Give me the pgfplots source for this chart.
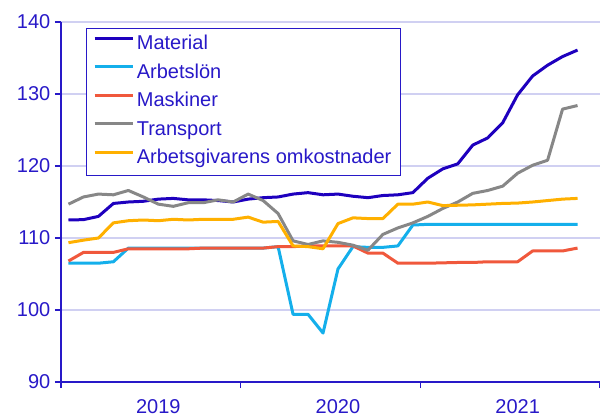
\documentclass[border=0pt]{standalone}
\usepackage{pgfplots}
\pgfplotsset{compat=1.18}
\usepackage{fontspec}
\setmainfont{Liberation Sans}
\definecolor{txt}{RGB}{40,25,200}
\definecolor{cmat}{RGB}{30,0,190}
\definecolor{clon}{RGB}{20,175,235}
\definecolor{cmask}{RGB}{240,88,60}
\definecolor{ctrans}{RGB}{135,135,135}
\definecolor{cagiv}{RGB}{255,176,0}
\definecolor{gridc}{RGB}{208,208,242}
\pgfplotstableread{
i mat lon mask trans agiv
0 112.5 106.5 106.8 114.7 109.35
1 112.55 106.5 108.0 115.7 109.7
2 113.0 106.5 108.0 116.1 110.0
3 114.8 106.7 108.0 116.0 112.1
4 115.0 108.6 108.5 116.6 112.4
5 115.1 108.6 108.5 115.7 112.5
6 115.4 108.6 108.5 114.7 112.4
7 115.5 108.6 108.5 114.4 112.6
8 115.3 108.6 108.5 114.9 112.5
9 115.3 108.6 108.6 114.9 112.6
10 115.2 108.6 108.6 115.3 112.6
11 115.0 108.6 108.6 115.0 112.6
12 115.4 108.6 108.6 116.1 112.9
13 115.6 108.6 108.6 115.2 112.2
14 115.7 108.8 108.8 113.4 112.3
15 116.1 99.4 108.8 109.6 108.9
16 116.3 99.4 108.9 109.1 108.8
17 116.0 96.8 108.9 109.6 108.5
18 116.1 105.7 108.9 109.4 112.0
19 115.8 108.8 108.9 109.0 112.8
20 115.6 108.7 107.9 108.3 112.7
21 115.9 108.7 107.9 110.5 112.7
22 116.0 108.9 106.5 111.4 114.7
23 116.3 111.8 106.5 112.1 114.7
24 118.3 111.9 106.5 113.0 115.0
25 119.6 111.9 106.55 114.1 114.5
26 120.3 111.9 106.6 115.0 114.55
27 122.9 111.9 106.6 116.2 114.6
28 123.9 111.9 106.7 116.6 114.7
29 126.0 111.9 106.7 117.2 114.8
30 129.9 111.9 106.7 119.0 114.85
31 132.5 111.9 108.2 120.1 115.0
32 134.0 111.9 108.2 120.8 115.2
33 135.2 111.9 108.2 127.9 115.4
34 136.1 111.9 108.6 128.4 115.5
}\data
\begin{document}
\begin{tikzpicture}
\useasboundingbox (-45.75pt,-27pt) rectangle (404.25pt,286.5pt);
\begin{axis}[
  at={(0pt,0pt)}, anchor=south west,
  scale only axis, width=404.25pt, height=270pt,
  xmin=-0.5, xmax=35.5, ymin=90, ymax=140,
  axis x line*=bottom, axis y line*=left,
  axis line style={-, draw=txt, line width=1.1pt},
  tick align=outside,
  major tick length=4.5pt,
  tick style={draw=txt, line width=1.1pt},
  ytick={90,100,110,120,130,140},
  ymajorgrids,
  grid style={draw=gridc, line width=0.9pt},
  xtick={-0.5,11.5,23.5,35.5},
  xticklabels={},
  extra x ticks={6,18,30},
  extra x tick labels={2019,2020,2021},
  extra x tick style={major tick length=0pt, xmajorgrids=false, tick label style={yshift=-9.5pt}},
  tick label style={font=\fontsize{15}{18}\selectfont, text=txt},
  /pgf/number format/assume math mode=true,
  legend style={at={(0.0464,0.9833)}, anchor=north west, draw=txt, line width=0.75pt,
    font=\fontsize{15}{18}\selectfont, text=txt,
    inner xsep=5pt, inner ysep=2.9pt, row sep=2.4pt,
    nodes={inner xsep=2pt, inner ysep=2pt, text height=11pt, text depth=4pt}},
  legend cell align=left,
  legend image code/.code={\draw[#1] (0pt,5pt) -- (28.5pt,5pt);},
  every axis plot/.append style={line width=2.25pt, line join=round},
]
\addplot[cmat] table[x=i,y=mat]{\data};
\addplot[clon] table[x=i,y=lon]{\data};
\addplot[cmask] table[x=i,y=mask]{\data};
\addplot[ctrans] table[x=i,y=trans]{\data};
\addplot[cagiv] table[x=i,y=agiv]{\data};
\legend{Material,Arbetslön,Maskiner,Transport,Arbetsgivarens omkostnader}
\end{axis}
\end{tikzpicture}
\end{document}
